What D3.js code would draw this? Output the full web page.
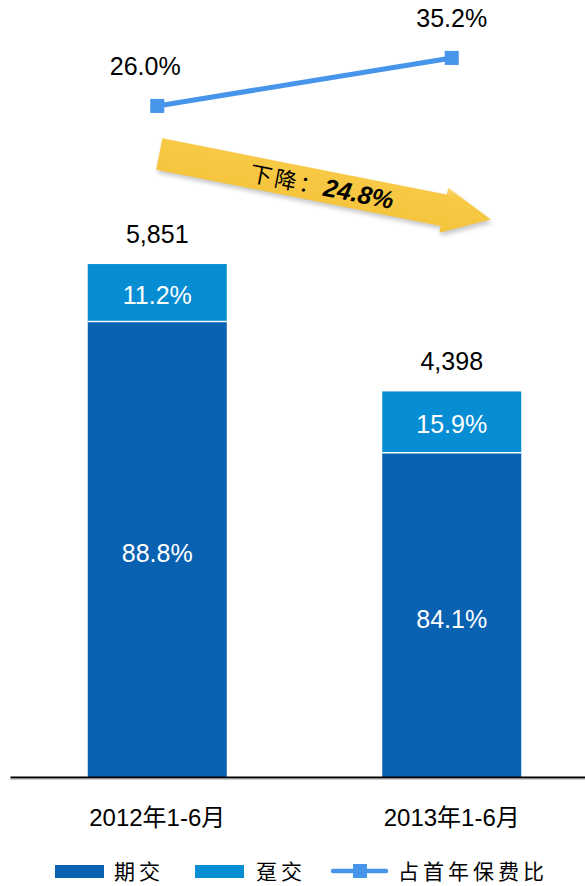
<!DOCTYPE html>
<html>
<head>
<meta charset="utf-8">
<script src="https://cdn.jsdelivr.net/npm/d3@7/dist/d3.min.js"></script>
<style>
  html, body { margin: 0; padding: 0; background: #fff; }
  svg { display: block; }
  text { font-family: "Liberation Sans", Arial, "Noto Sans CJK SC", sans-serif; }
</style>
</head>
<body>
<svg id="chart" width="585" height="886"></svg>
<script>
// Periods on the x axis
const periods = ["2012年1-6月", "2013年1-6月"];
// Total first-year premium per period
const totals = [5851, 4398];
// Share of regular-premium (期交) and single-premium (趸交) business, %
const regularShare = [88.8, 84.1];
const singleShare = [11.2, 15.9];
// Share of first-year premium (占首年保费比), %
const ratio = [26.0, 35.2];
// Change annotation
const changeLabel = "下降：";
const changeValue = "24.8%";
// Legend entries
const legendNames = ["期交", "趸交", "占首年保费比"];

const colors = { regular: "#0961B1", single: "#078DD4", line: "#4795EA", arrow: "#F7C945" };

const svg = d3.select("#chart");
const W = 585;
const baseY = 777;

const x = d3.scaleBand().domain(periods).range([10, 599]).paddingInner(0.528).paddingOuter(0.264);
const y = d3.scaleLinear().domain([0, 6000]).range([baseY, 251]);
const yLine = d3.scaleLinear().domain([0, 40]).range([241.6, 32.9]);

const rows = periods.map((p, i) => {
  const reg = totals[i] * regularShare[i] / 100;
  return { p, total: totals[i], reg, regPct: regularShare[i], singlePct: singleShare[i], ratio: ratio[i] };
});

// Stacked bars
const g = svg.append("g");
g.selectAll("rect.reg").data(rows).join("rect")
  .attr("class", "reg")
  .attr("x", d => x(d.p)).attr("width", x.bandwidth())
  .attr("y", d => y(d.reg)).attr("height", d => y(0) - y(d.reg))
  .attr("fill", colors.regular);
g.selectAll("rect.single").data(rows).join("rect")
  .attr("class", "single")
  .attr("x", d => x(d.p)).attr("width", x.bandwidth())
  .attr("y", d => y(d.total)).attr("height", d => y(d.reg) - y(d.total))
  .attr("fill", colors.single);
// thin white divider between the two segments
g.selectAll("line.div").data(rows).join("line")
  .attr("x1", d => x(d.p)).attr("x2", d => x(d.p) + x.bandwidth())
  .attr("y1", d => y(d.reg)).attr("y2", d => y(d.reg))
  .attr("stroke", "#fff").attr("stroke-width", 1.5);

// Segment labels
const fmtPct = d => d.toFixed(1) + "%";
g.selectAll("text.regl").data(rows).join("text")
  .attr("x", d => x(d.p) + x.bandwidth() / 2)
  .attr("y", d => (y(d.reg) + y(0)) / 2 + 13)
  .attr("text-anchor", "middle").attr("font-size", 25).attr("fill", "#fff")
  .text(d => fmtPct(d.regPct));
g.selectAll("text.singlel").data(rows).join("text")
  .attr("x", d => x(d.p) + x.bandwidth() / 2)
  .attr("y", d => (y(d.total) + y(d.reg)) / 2 + 11)
  .attr("text-anchor", "middle").attr("font-size", 25).attr("fill", "#fff")
  .text(d => fmtPct(d.singlePct));
// Totals
g.selectAll("text.tot").data(rows).join("text")
  .attr("x", d => x(d.p) + x.bandwidth() / 2)
  .attr("y", d => y(d.total) - 21)
  .attr("text-anchor", "middle").attr("font-size", 25).attr("fill", "#000")
  .text(d => d3.format(",")(d.total));

// X axis
const xAxis = svg.append("g").attr("transform", `translate(0,${baseY})`)
  .call(d3.axisBottom(x).tickSize(0).tickPadding(32));
xAxis.select(".domain").attr("stroke", "#000").attr("stroke-width", 2);
xAxis.selectAll("text").attr("font-size", 24).attr("fill", "#000")
  .attr("font-family", "'Liberation Sans', Arial, 'Noto Sans CJK SC', sans-serif");
svg.append("line").attr("x1", 10).attr("x2", W).attr("y1", baseY + 2).attr("y2", baseY + 2)
  .attr("stroke", "#999").attr("stroke-width", 1);

// Ratio line
const cx = d => x(d.p) + x.bandwidth() / 2;
svg.append("path").datum(rows)
  .attr("d", d3.line().x(cx).y(d => yLine(d.ratio)))
  .attr("fill", "none").attr("stroke", colors.line).attr("stroke-width", 5);
svg.selectAll("rect.mk").data(rows).join("rect")
  .attr("x", d => cx(d) - 7).attr("y", d => yLine(d.ratio) - 7)
  .attr("width", 14).attr("height", 14).attr("fill", colors.line);
svg.selectAll("text.rl").data(rows).join("text")
  .attr("x", (d, i) => cx(d) + (i === 0 ? -12 : 0))
  .attr("y", d => yLine(d.ratio) - 31)
  .attr("text-anchor", "middle").attr("font-size", 25).attr("fill", "#000")
  .text(d => fmtPct(d.ratio));

// Downward arrow annotation between the two periods
const tail = [cx(rows[0]) + 2, yLine(rows[0].ratio) + 48];
const ang = 11.2;
const bodyH = 16, headH = 23, len = 338, headLen = 48;
const arrowPts = [[0, -bodyH], [len - headLen, -bodyH], [len - headLen, -headH], [len, 0],
                  [len - headLen, headH], [len - headLen, bodyH], [0, bodyH]];
const defs = svg.append("defs");
defs.append("filter").attr("id", "sh").attr("x", "-10%").attr("y", "-30%").attr("width", "120%").attr("height", "160%")
  .append("feGaussianBlur").attr("stdDeviation", 2);
const grad = defs.append("linearGradient").attr("id", "ag").attr("x1", 0).attr("y1", 0).attr("x2", 0).attr("y2", 1);
grad.append("stop").attr("offset", "0%").attr("stop-color", "#FBDB78");
grad.append("stop").attr("offset", "18%").attr("stop-color", colors.arrow);
grad.append("stop").attr("offset", "100%").attr("stop-color", "#F5C43C");
const ag = svg.append("g").attr("transform", `translate(${tail[0]},${tail[1]}) rotate(${ang})`);
ag.append("polygon").attr("points", arrowPts.map(p => p.join(",")).join(" "))
  .attr("transform", "translate(2,3)").attr("fill", "#888").attr("opacity", 0.45).attr("filter", "url(#sh)");
ag.append("polygon").attr("points", arrowPts.map(p => p.join(",")).join(" "))
  .attr("fill", "url(#ag)");
const at = ag.append("text").attr("x", 166).attr("y", 9).attr("text-anchor", "middle").attr("fill", "#000");
at.append("tspan").attr("font-size", 22).attr("letter-spacing", 3)
  .attr("font-family", "'Noto Sans CJK SC', sans-serif").text(changeLabel);
at.append("tspan").attr("font-size", 25).attr("font-weight", "bold").attr("font-style", "italic").text(changeValue);

// Legend
const ly = 871;
const lg = svg.append("g").attr("font-family", "'Noto Sans CJK SC', sans-serif");
lg.append("rect").attr("x", 55).attr("y", ly - 6).attr("width", 49).attr("height", 13).attr("fill", colors.regular);
lg.append("text").attr("x", 114).attr("y", ly + 8).attr("font-size", 21).attr("letter-spacing", 4)
  .attr("font-family", "'Noto Sans CJK SC', sans-serif").text(legendNames[0]);
lg.append("rect").attr("x", 195).attr("y", ly - 6).attr("width", 49).attr("height", 13).attr("fill", colors.single);
lg.append("text").attr("x", 256).attr("y", ly + 8).attr("font-size", 21).attr("letter-spacing", 4)
  .attr("font-family", "'Noto Sans CJK SC', sans-serif").text(legendNames[1]);
lg.append("line").attr("x1", 333).attr("x2", 386).attr("y1", ly).attr("y2", ly)
  .attr("stroke", colors.line).attr("stroke-width", 4.5).attr("stroke-linecap", "round");
lg.append("rect").attr("x", 353).attr("y", ly - 7).attr("width", 14).attr("height", 14).attr("fill", colors.line);
lg.append("text").attr("x", 398).attr("y", ly + 8).attr("font-size", 21).attr("letter-spacing", 4)
  .attr("font-family", "'Noto Sans CJK SC', sans-serif").text(legendNames[2]);
</script>
</body>
</html>
